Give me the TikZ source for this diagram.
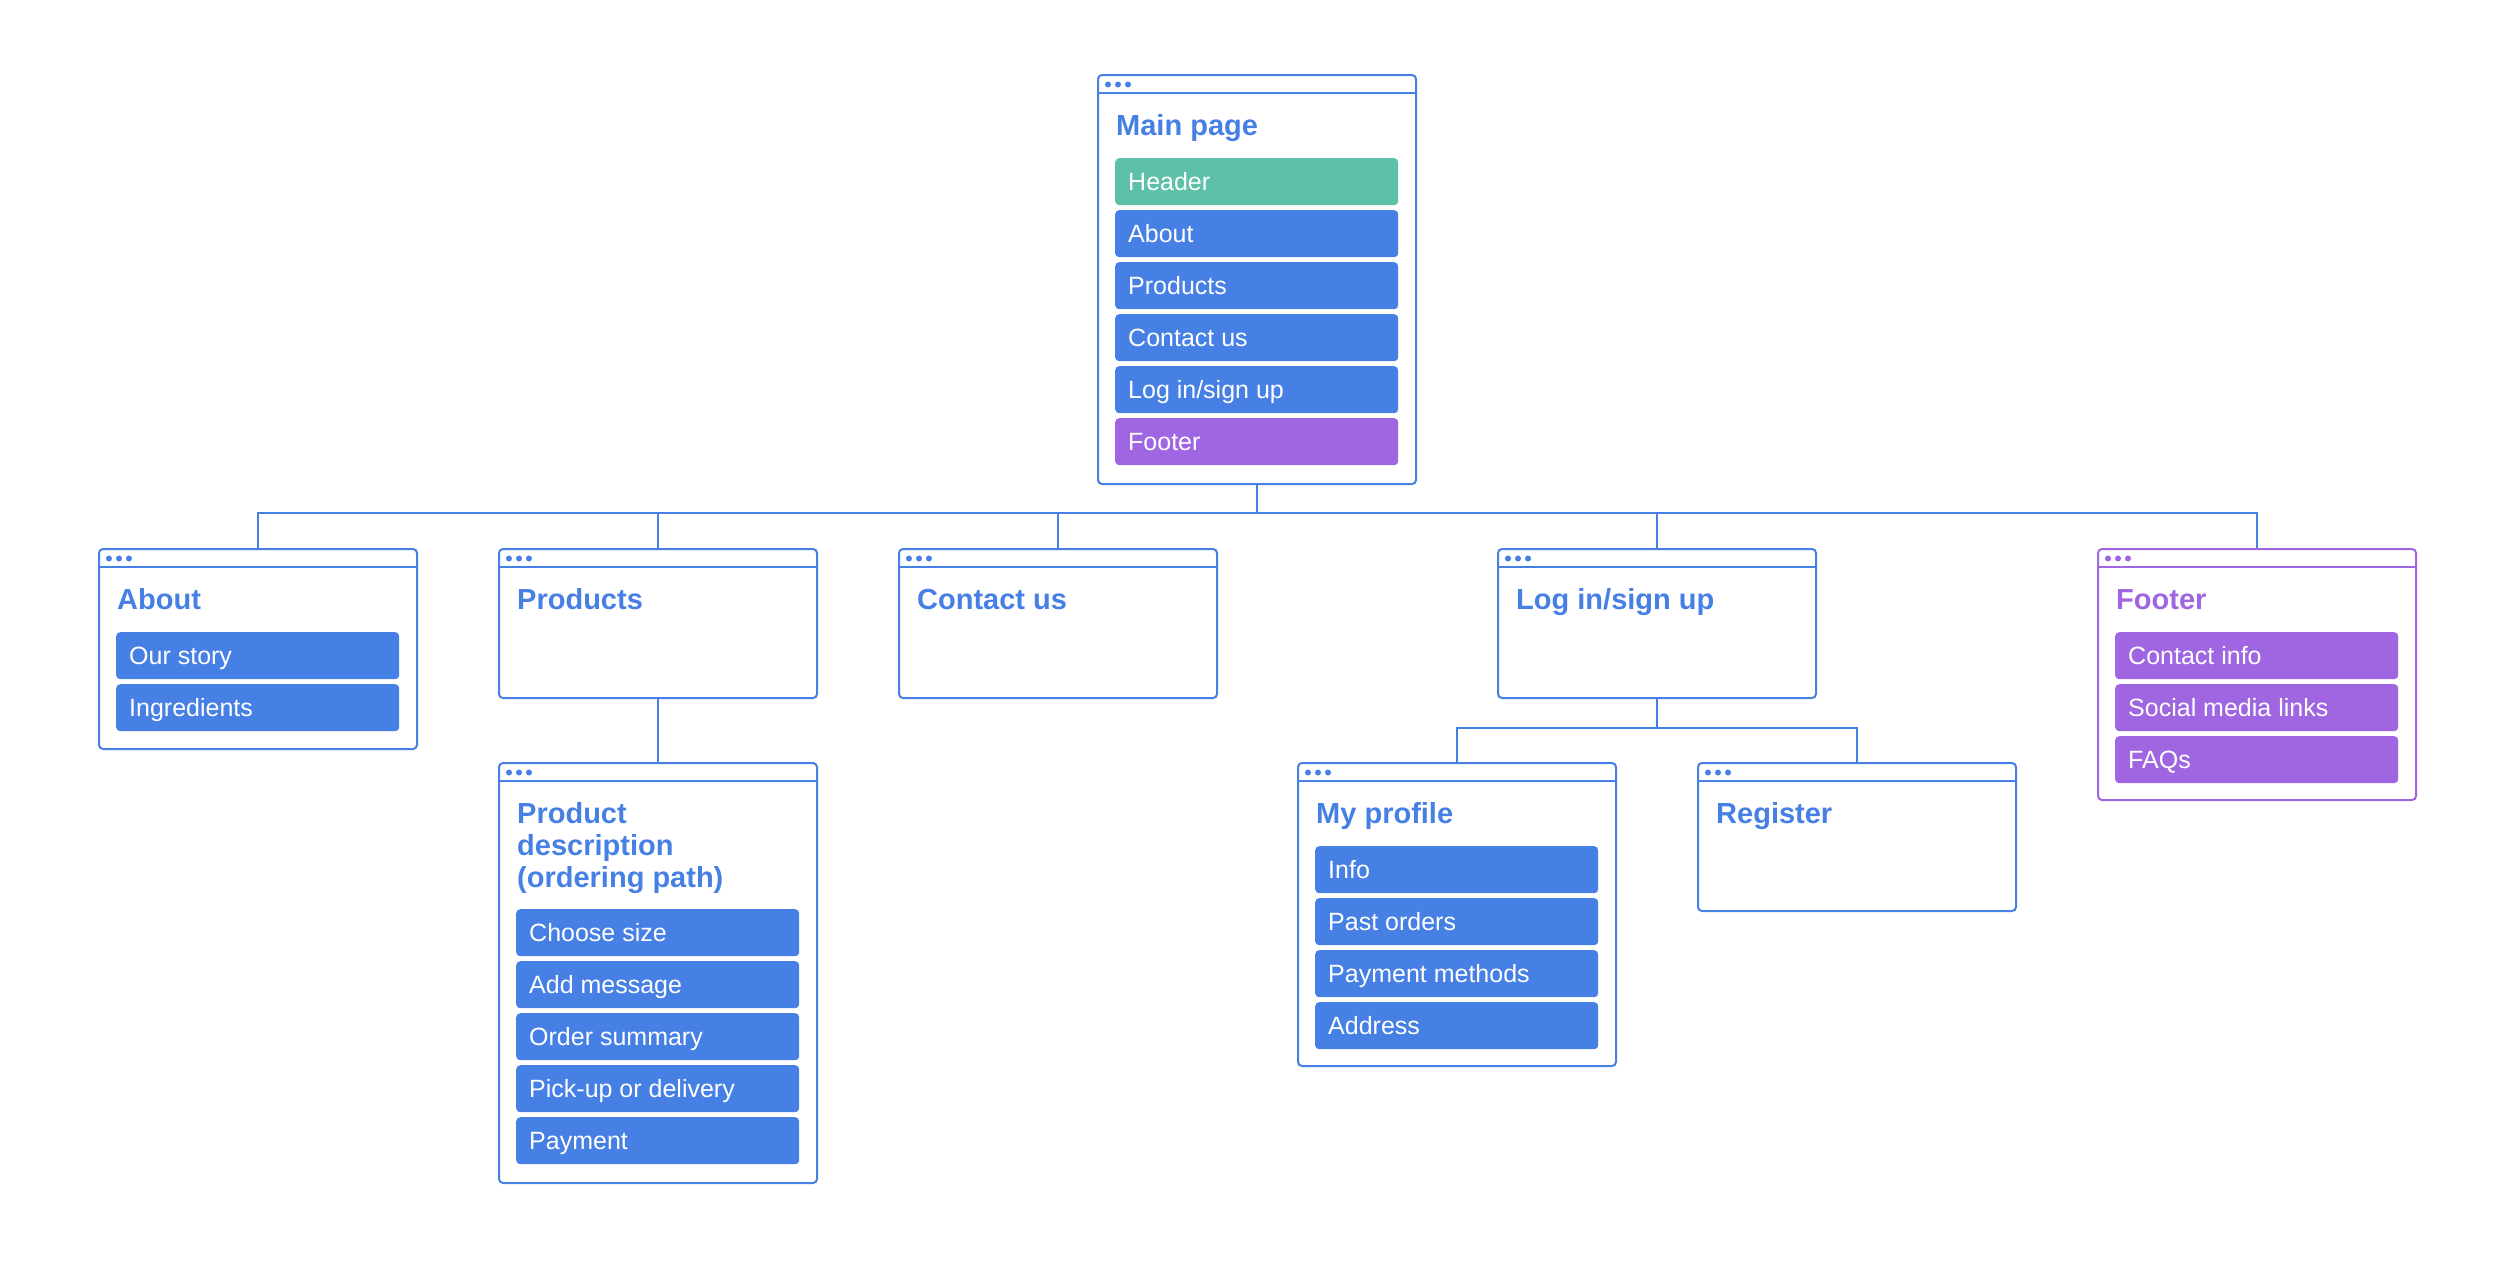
\documentclass[tikz,border=0pt]{standalone}
\usepackage{fontspec}
\setmainfont{Liberation Sans}
\definecolor{cblue}{RGB}{70,128,228}
\definecolor{cgreen}{RGB}{92,193,168}
\definecolor{cpurple}{RGB}{160,101,224}
\newcommand\barfnt{\fontsize{25pt}{30pt}\selectfont}
\newcommand\titfnt{\fontsize{29pt}{32pt}\selectfont\bfseries}
\tikzset{
  winbox/.style={rectangle, rounded corners=4pt, line width=2pt, fill=white, minimum width=318pt, inner sep=0pt, anchor=north west},
  barbox/.style={rectangle, rounded corners=4pt, inner xsep=13pt, inner ysep=0pt, minimum height=47pt, text height=18pt, text depth=0pt, text=white, font=\barfnt, anchor=north west, fill=#1},
  barbox/.default=cblue,
  wintitle/.style={inner sep=0pt, anchor=base west, font=\titfnt, text=#1},
  wintitle/.default=cblue,
  conn/.style={draw=cblue, line width=2pt}
}
\newcommand\drawwin[5]{%
  \node[winbox, draw=#5, minimum height=#4pt] (#1) at (#2,#3) {};
  \draw[#5, line width=2pt] ([yshift=-19pt]#1.north west) -- ([yshift=-19pt]#1.north east);
  \foreach \k in {11,21,31} \fill[#5] ([xshift=\k pt, yshift=-10.5pt]#1.north west) circle (3pt);
}
\newcommand\bartext[1]{\makebox[257pt][l]{#1}}
\begin{document}
\begin{tikzpicture}[x=1pt,y=-1pt]
\fill[white] (0,0) rectangle (2500,1261);
\useasboundingbox (0,0) rectangle (2500,1261);
\coordinate (bus) at (0,513);
\coordinate (bus2) at (0,728);

% windows
\drawwin{main}{1097}{74}{409}{cblue}
\drawwin{about}{98}{548}{200}{cblue}
\drawwin{products}{498}{548}{149}{cblue}
\drawwin{contact}{898}{548}{149}{cblue}
\drawwin{login}{1497}{548}{149}{cblue}
\drawwin{footer}{2097}{548}{251}{cpurple}
\drawwin{desc}{498}{762}{420}{cblue}
\drawwin{profile}{1297}{762}{303}{cblue}
\drawwin{register}{1697}{762}{148}{cblue}

% connectors
\draw[conn] (main.south) -- (main.south |- bus);
\draw[conn] (about.north) |- (footer.north |- bus) -- (footer.north);
\draw[conn] (products.north) -- (products.north |- bus);
\draw[conn] (contact.north) -- (contact.north |- bus);
\draw[conn] (login.north) -- (login.north |- bus);
\draw[conn] (products.south) -- (desc.north);
\draw[conn] (login.south) -- (login.south |- bus2);
\draw[conn] (profile.north) |- (register.north |- bus2) -- (register.north);

% main page
\node[wintitle] (tmain) at (1116,135) {Main page};
\node[barbox=cgreen] (m1) at (1115,158) {\bartext{Header}};
\node[barbox] (m2) at (1115,210) {\bartext{About}};
\node[barbox] (m3) at (1115,262) {\bartext{Products}};
\node[barbox] (m4) at (1115,314) {\bartext{Contact us}};
\node[barbox] (m5) at (1115,366) {\bartext{Log in/sign up}};
\node[barbox=cpurple] (m6) at (1115,418) {\bartext{Footer}};

% about
\node[wintitle] (tabout) at (117,609) {About};
\node[barbox] (a1) at (116,632) {\bartext{Our story}};
\node[barbox] (a2) at (116,684) {\bartext{Ingredients}};

% products, contact, login
\node[wintitle] (tproducts) at (517,609) {Products};
\node[wintitle] (tcontact) at (917,609) {Contact us};
\node[wintitle] (tlogin) at (1516,609) {Log in/sign up};

% footer
\node[wintitle=cpurple] (tfooter) at (2116,609) {Footer};
\node[barbox=cpurple] (f1) at (2115,632) {\bartext{Contact info}};
\node[barbox=cpurple] (f2) at (2115,684) {\bartext{Social media links}};
\node[barbox=cpurple] (f3) at (2115,736) {\bartext{FAQs}};

% product description
\node[wintitle] (tdesc) at (517,823) {\vtop{\baselineskip=32pt\hbox{Product}\hbox{description}\hbox{(ordering path)}}};
\node[barbox] (d1) at (516,909) {\bartext{Choose size}};
\node[barbox] (d2) at (516,961) {\bartext{Add message}};
\node[barbox] (d3) at (516,1013) {\bartext{Order summary}};
\node[barbox] (d4) at (516,1065) {\bartext{Pick-up or delivery}};
\node[barbox] (d5) at (516,1117) {\bartext{Payment}};

% my profile
\node[wintitle] (tprofile) at (1316,823) {My profile};
\node[barbox] (p1) at (1315,846) {\bartext{Info}};
\node[barbox] (p2) at (1315,898) {\bartext{Past orders}};
\node[barbox] (p3) at (1315,950) {\bartext{Payment methods}};
\node[barbox] (p4) at (1315,1002) {\bartext{Address}};

% register
\node[wintitle] (tregister) at (1716,823) {Register};
\end{tikzpicture}
\end{document}
